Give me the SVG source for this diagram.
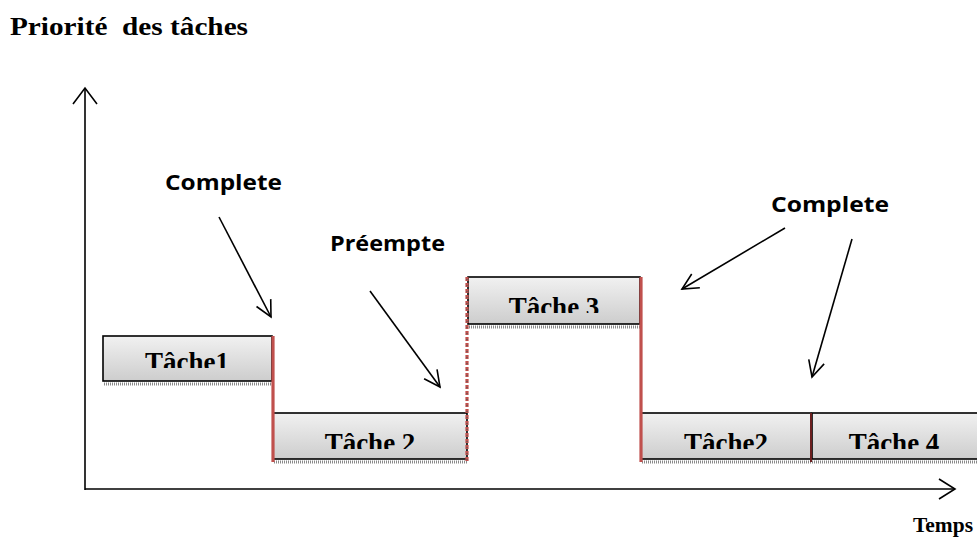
<svg xmlns="http://www.w3.org/2000/svg" width="977" height="544" viewBox="0 0 977 544">
  <style>
    .title { font-family: "Liberation Serif", "Times New Roman", serif; font-weight: bold; font-size: 25px; fill: #000; white-space: pre; }
    .axis-name { font-family: "Liberation Serif", "Times New Roman", serif; font-weight: bold; font-size: 22px; fill: #000; }
    .label { font-family: "Open Sans", "Liberation Sans", sans-serif; font-weight: bold; font-size: 21px; fill: #000; }
    .task { font-family: "Liberation Serif", "Times New Roman", serif; font-weight: bold; font-size: 27px; fill: #000; text-anchor: middle; }
    .box { fill: url(#boxFill); stroke: #000; stroke-width: 1.6; }
    .shadow { stroke: #8a8a8a; stroke-width: 3; stroke-dasharray: 1 1; fill: none; }
    .axis { stroke: #000; stroke-width: 1.6; fill: none; }
    .arrow { stroke: #000; stroke-width: 1.6; fill: none; marker-end: url(#openHead); }
    .switch { stroke: #c0504d; stroke-width: 3.2; fill: none; }
  </style>
  <defs>
    <linearGradient id="boxFill" x1="0" y1="0" x2="0" y2="1">
      <stop offset="0" stop-color="#f1f1f1"/>
      <stop offset="1" stop-color="#cdcdcd"/>
    </linearGradient>
    <marker id="openHead" viewBox="0 0 20 20" refX="18" refY="10" markerWidth="20" markerHeight="20" markerUnits="userSpaceOnUse" orient="auto">
      <path d="M2,2 L18,10 L2,18" fill="none" stroke="#000" stroke-width="1.6"/>
    </marker>
    <clipPath id="clip1"><rect x="103" y="336" width="169" height="32"/></clipPath>
    <clipPath id="clip2"><rect x="273" y="413" width="194" height="36"/></clipPath>
    <clipPath id="clip3"><rect x="468" y="277" width="172" height="36"/></clipPath>
    <clipPath id="clip4"><rect x="641" y="413" width="170" height="36"/></clipPath>
    <clipPath id="clip5"><rect x="812" y="413" width="165" height="36"/></clipPath>
  </defs>

  <rect width="977" height="544" fill="#fff"/>

  <text class="title" x="10" y="35" textLength="238" lengthAdjust="spacingAndGlyphs" xml:space="preserve">Priorité  des tâches</text>
  <text class="axis-name" x="913" y="532" textLength="60" lengthAdjust="spacingAndGlyphs">Temps</text>

  <!-- axes -->
  <g id="axes">
    <path class="axis" d="M85,490 V89"/>
    <path class="axis" d="M73,104 L85,88 L97,104"/>
    <path class="axis" d="M85,489 H955"/>
    <path class="axis" d="M939,479 L955,489 L939,499"/>
  </g>

  <!-- task blocks -->
  <g id="task1">
    <path class="shadow" d="M104,384 H272"/>
    <rect class="box" x="103" y="336" width="169" height="45"/>
    <text class="task" x="187" y="371" clip-path="url(#clip1)">Tâche1</text>
  </g>
  <g id="task2a">
    <path class="shadow" d="M274,462 H467"/>
    <rect class="box" x="273" y="413" width="194" height="46"/>
    <text class="task" x="370" y="452" clip-path="url(#clip2)">Tâche 2</text>
  </g>
  <g id="task3">
    <path class="shadow" d="M469,327 H640"/>
    <rect class="box" x="468" y="277" width="172" height="47"/>
    <text class="task" x="554" y="316" clip-path="url(#clip3)">Tâche 3</text>
  </g>
  <g id="task2b">
    <path class="shadow" d="M642,462 H811"/>
    <rect class="box" x="641" y="413" width="170" height="46"/>
    <text class="task" x="726" y="452" clip-path="url(#clip4)">Tâche2</text>
  </g>
  <g id="task4">
    <path class="shadow" d="M812,462 H977"/>
    <rect class="box" x="812" y="413" width="166" height="46"/>
    <text class="task" x="894" y="452" clip-path="url(#clip5)">Tâche 4</text>
  </g>

  <!-- context switch markers -->
  <g id="switches">
    <path class="switch" d="M273,336 V462"/>
    <path d="M467,277 V462" stroke="#c0504d" stroke-width="3.2" stroke-dasharray="4 2"/>
    <path d="M467,279 V462" stroke="#555" stroke-width="1.2" stroke-dasharray="1 5"/>
    <path class="switch" d="M641,277 V462"/>
    <path d="M811,413 V462" stroke="#6b1f1f" stroke-width="2"/>
  </g>

  <!-- labels -->
  <text class="label" x="165" y="190" textLength="117" lengthAdjust="spacingAndGlyphs">Complete</text>
  <text class="label" x="330" y="251" textLength="115" lengthAdjust="spacingAndGlyphs">Préempte</text>
  <text class="label" x="771" y="212" textLength="118" lengthAdjust="spacingAndGlyphs">Complete</text>

  <!-- connectors -->
  <g id="connectors">
    <path class="arrow" d="M219,217 L271,317"/>
    <path class="arrow" d="M370,291 L440,387"/>
    <path class="arrow" d="M785,228 L682,289"/>
    <path class="arrow" d="M852,239 L812,377"/>
  </g>
</svg>
